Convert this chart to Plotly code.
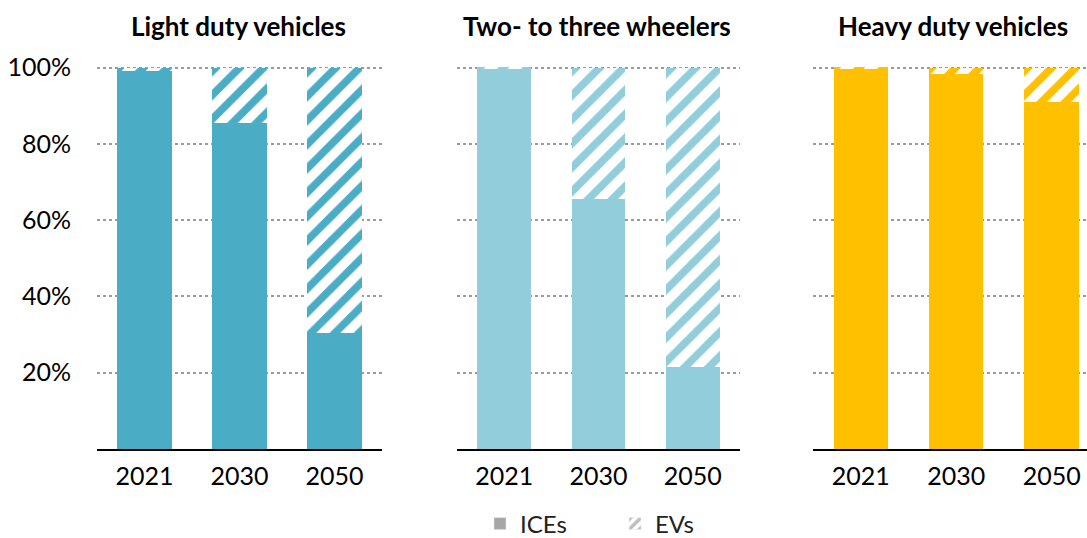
import plotly.graph_objects as go

years = ["2021", "2030", "2050"]
panels = ["Light duty vehicles", "Two- to three wheelers", "Heavy duty vehicles"]
ice_ldv = [0.99, 0.854, 0.303]
ice_2w = [0.998, 0.655, 0.214]
ice_hdv = [0.998, 0.984, 0.909]
ice_vals = [ice_ldv, ice_2w, ice_hdv]
colors = ["#4BACC6", "#92CDDC", "#FFC000"]
y_ticks = [0.2, 0.4, 0.6, 0.8, 1.0]
y_tick_text = ["20%", "40%", "60%", "80%", "100%"]
legend_names = ["ICEs", "EVs"]

W, H = 1087, 538
ml, mr, mt, mb = 97, 0, 66, 89
pw = W - ml - mr
ph = H - mt - mb
px = lambda p: (p - ml) / pw
domains = [(px(97), px(382)), (px(457), px(740)), (px(813), 1.0)]
xranges = [[-0.5, 2.5], [-0.5, 2.5], [-0.5, 2.37]]
YMAX = 1.004

FONT = "Lato"
fig = go.Figure()
for i in range(3):
    xa = "x" if i == 0 else f"x{i+1}"
    ya = "y" if i == 0 else f"y{i+1}"
    ev = [1 - v for v in ice_vals[i]]
    fig.add_trace(go.Bar(x=years, y=ice_vals[i], xaxis=xa, yaxis=ya, width=0.57,
                         marker=dict(color=colors[i], line=dict(width=0)), showlegend=False))
    fig.add_trace(go.Bar(x=years, y=ev, xaxis=xa, yaxis=ya, width=0.57,
                         marker=dict(color=colors[i], line=dict(width=0),
                                     pattern=dict(shape="/", fgcolor=colors[i], bgcolor="white",
                                                  fgopacity=1, size=17, solidity=0.45)),
                         showlegend=False))

# legend items
fig.add_trace(go.Bar(x=[None], y=[None], name=legend_names[0], legend="legend",
                     marker=dict(color="#A6A6A6")))
fig.add_trace(go.Bar(x=[None], y=[None], name=legend_names[1], legend="legend2",
                     marker=dict(color="#A6A6A6", pattern=dict(shape="/", fgcolor="#BFBFBF",
                                                               bgcolor="white", fgopacity=1,
                                                               size=9, solidity=0.5))))

leg_common = dict(orientation="h", xanchor="left", xref="paper",
                  y=(H - 524) / H, yref="container", yanchor="middle",
                  font=dict(size=24, color="#222222", family=FONT), itemwidth=30,
                  bgcolor="rgba(0,0,0,0)")
layout = dict(
    width=W, height=H, barmode="stack", bargap=0.43,
    margin=dict(l=ml, r=mr, t=mt, b=mb, pad=0, autoexpand=False),
    plot_bgcolor="white", paper_bgcolor="white",
    font=dict(family=FONT, size=24, color="#000000"),
    showlegend=True,
    legend=dict(x=px(480), **leg_common),
    legend2=dict(x=px(615), **leg_common),
)
for i in range(3):
    xk = "xaxis" if i == 0 else f"xaxis{i+1}"
    yk = "yaxis" if i == 0 else f"yaxis{i+1}"
    ya = "y" if i == 0 else f"y{i+1}"
    xa = "x" if i == 0 else f"x{i+1}"
    layout[xk] = dict(domain=list(domains[i]), anchor=ya, range=xranges[i], type="category",
                      showline=True, linecolor="#000000", linewidth=1.5, ticks="",
                      tickfont=dict(size=25, family=FONT), showgrid=False, fixedrange=True,
                      automargin=False, ticklabelstandoff=4)
    layout[yk] = dict(domain=[0, 1], anchor=xa, range=[0, YMAX], tickvals=y_ticks,
                      ticktext=y_tick_text if i == 0 else ["" for _ in y_ticks],
                      showticklabels=(i == 0), showgrid=True, gridcolor="#9A9A9A",
                      gridwidth=2, griddash="dot", zeroline=False, showline=False,
                      ticklen=0, ticklabelstandoff=25 if i == 0 else 0, automargin=False,
                      fixedrange=True, tickfont=dict(size=25, family=FONT))
fig.update_layout(**layout)

centers = [238, 597, 953]
for i, t in enumerate(panels):
    fig.add_annotation(text=f"<b>{t}</b>", xref="paper", yref="paper", x=px(centers[i]),
                       y=1 + (66 - 26) / ph, xanchor="center", yanchor="middle",
                       showarrow=False, font=dict(size=26, family=FONT, color="#000000"))

fig.write_html("out.html", config={"displayModeBar": False},
               post_script="document.body.style.margin='0';document.body.style.padding='0';")
